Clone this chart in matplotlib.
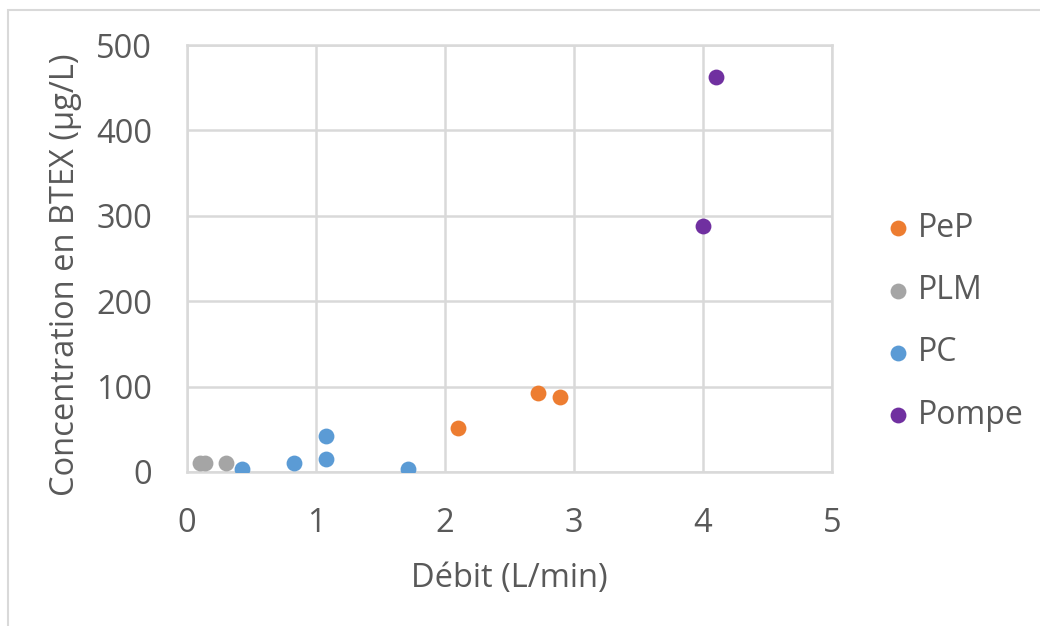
import matplotlib.pyplot as plt
from matplotlib.patches import Rectangle

# data
pep_x = [2.10, 2.72, 2.89]
pep_y = [51, 93, 88]
plm_x = [0.10, 0.14, 0.30]
plm_y = [11, 11, 11]
pc_x = [0.43, 0.83, 1.08, 1.08, 1.71]
pc_y = [4, 10, 42, 15, 4]
pompe_x = [4.00, 4.10]
pompe_y = [288, 463]

series = [
    ("PeP", pep_x, pep_y, "#ED7D31"),
    ("PLM", plm_x, plm_y, "#A5A5A5"),
    ("PC", pc_x, pc_y, "#5B9BD5"),
    ("Pompe", pompe_x, pompe_y, "#7030A0"),
]

plt.rcParams['font.family'] = ['Open Sans', 'DejaVu Sans']
txt = "#595959"
grid_c = "#D9D9D9"

fig = plt.figure(figsize=(10.4, 6.26), dpi=100)
# outer chart border (left and top edges visible)
fig.patches.append(Rectangle((8 / 1040, -0.1), 1.2, 1 - 10 / 626 + 0.1,
                             transform=fig.transFigure, fill=False,
                             edgecolor=grid_c, linewidth=1.5))
ax = fig.add_axes([187 / 1040, 1 - 472 / 626, (832 - 187) / 1040, (472 - 45) / 626])

for name, xs, ys, c in series:
    ax.scatter(xs, ys, s=130, color=c, label=name, zorder=3, linewidths=0)

ax.set_xlim(0, 5)
ax.set_ylim(0, 500)
ax.set_xticks(range(0, 6))
ax.set_yticks(range(0, 501, 100))
ax.grid(True, color=grid_c, linewidth=1.8)
ax.set_axisbelow(True)
for s in ax.spines.values():
    s.set_color(grid_c)
    s.set_linewidth(1.8)
ax.tick_params(axis='y', length=0, labelsize=23.5, labelcolor=txt, pad=25)
ax.tick_params(axis='x', length=0, labelsize=23.5, labelcolor=txt, pad=25)
ax.set_xlabel("Débit (L/min)", fontsize=23.5, color=txt, labelpad=16)
ax.set_ylabel("Concentration en BTEX (µg/L)", fontsize=23.5, color=txt,
              labelpad=10, y=0.463)

ax.legend(loc='center left', bbox_to_anchor=(1.0676, 0.352), frameon=False,
          fontsize=23, labelcolor=txt, markerscale=1.0, handletextpad=0.33,
          labelspacing=0.92, handlelength=0.6, borderaxespad=0)

fig.savefig("out.png", dpi=100)
